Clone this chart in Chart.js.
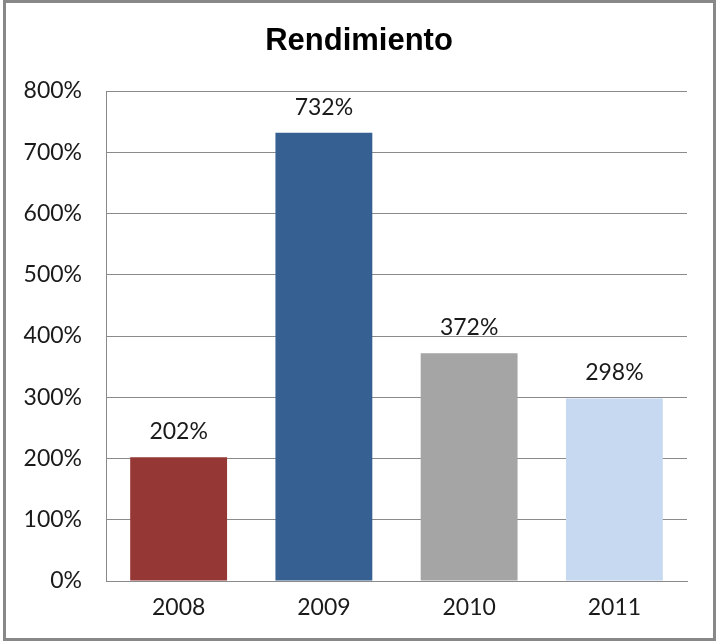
<!DOCTYPE html>
<html>
<head>
<meta charset="utf-8">
<script src="https://cdn.jsdelivr.net/npm/chart.js@4/dist/chart.umd.min.js"></script>
<style>
  html, body { margin: 0; padding: 0; background: #fff; }
  #wrap { position: relative; width: 716px; height: 642px; }
  #frame {
    position: absolute; left: 3px; top: 0; width: 713px; height: 641px;
    box-sizing: border-box; border: 3px solid #888; pointer-events: none;
  }
  canvas { position: absolute; left: 0; top: 0; }
</style>
</head>
<body>
<div id="wrap">
  <canvas id="chart" width="716" height="642"></canvas>
  <div id="frame"></div>
</div>
<script>
const chartTitle = "Rendimiento";
const years = ["2008", "2009", "2010", "2011"];
const rendimiento = [202, 732, 372, 298];
const barColors = ["#953735", "#366092", "#A5A5A5", "#C6D9F1"];
const yTicks = [0, 100, 200, 300, 400, 500, 600, 700, 800];

const numFont = { family: "Lato", size: 23 };
const gridColor = "#8a8a8a";

// value labels above each bar
const barLabels = {
  id: "barLabels",
  afterDatasetsDraw(chart) {
    const ctx = chart.ctx;
    const meta = chart.getDatasetMeta(0);
    ctx.save();
    ctx.font = `${numFont.size}px ${numFont.family}`;
    ctx.fillStyle = "#1a1a1a";
    ctx.textAlign = "center";
    ctx.textBaseline = "alphabetic";
    meta.data.forEach((bar, i) => {
      ctx.fillText(rendimiento[i] + "%", bar.x, bar.y - 18);
    });
    ctx.restore();
  },
};

// title centred on the whole frame, not on the plot
const frameTitle = {
  id: "frameTitle",
  afterDraw(chart) {
    const ctx = chart.ctx;
    ctx.save();
    ctx.font = "bold 31px 'Liberation Sans'";
    ctx.fillStyle = "#000";
    ctx.textAlign = "center";
    ctx.textBaseline = "alphabetic";
    ctx.fillText(chartTitle, 359, 50);
    ctx.restore();
  },
};

const ctx = document.getElementById("chart").getContext("2d");
new Chart(ctx, {
  type: "bar",
  data: {
    labels: years,
    datasets: [
      {
        data: rendimiento,
        backgroundColor: barColors,
        borderWidth: 0,
        barPercentage: 0.667,
        categoryPercentage: 1,
      },
    ],
  },
  options: {
    responsive: false,
    animation: false,
    layout: { padding: { left: 0, right: 29, top: 91, bottom: 0 } },
    plugins: {
      legend: { display: false },
      tooltip: { enabled: false },
      title: { display: false },
    },
    scales: {
      x: {
        grid: { display: false, drawTicks: false },
        border: { display: true, color: gridColor, width: 1 },
        ticks: { color: "#1a1a1a", font: numFont, padding: 13 },
        afterFit: (scale) => { scale.height = 61; },
      },
      y: {
        min: 0,
        max: 800,
        grid: { color: gridColor, lineWidth: 1, drawTicks: false },
        border: { display: true, color: gridColor, width: 1 },
        afterBuildTicks: (scale) => {
          scale.ticks = yTicks.map((v) => ({ value: v }));
        },
        ticks: {
          color: "#1a1a1a",
          font: numFont,
          padding: 24,
          callback: (v) => v + "%",
        },
        afterFit: (scale) => { scale.width = 106; },
      },
    },
  },
  plugins: [barLabels, frameTitle],
});
</script>
</body>
</html>
